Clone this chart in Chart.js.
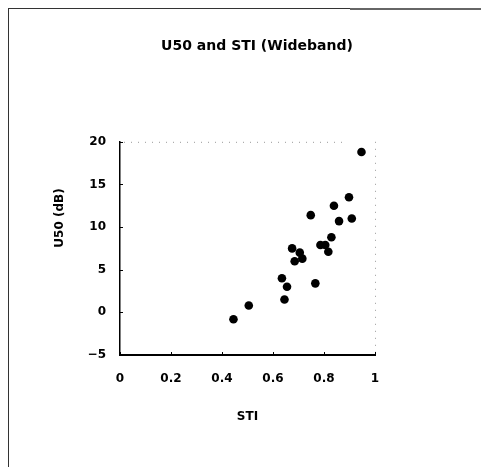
<!DOCTYPE html>
<html>
<head>
<meta charset="utf-8">
<script src="https://cdn.jsdelivr.net/npm/chart.js@4/dist/chart.umd.min.js"></script>
<style>
  html, body { margin: 0; padding: 0; background: #fff; }
  canvas { display: block; }
</style>
</head>
<body>
<canvas id="scatterChart" width="481" height="467"></canvas>
<script>
// STI vs U50 readings (wideband)
const stiValues = [0.445, 0.505, 0.635, 0.645, 0.655, 0.675, 0.685, 0.705, 0.715, 0.748, 0.766, 0.786, 0.805, 0.817, 0.829, 0.839, 0.859, 0.898, 0.909, 0.947];
const u50Values = [-0.8, 0.8, 4.0, 1.5, 3.0, 7.5, 6.0, 7.0, 6.3, 11.4, 3.4, 7.9, 7.9, 7.1, 8.8, 12.5, 10.7, 13.5, 11.0, 18.8];
const xTicks = [0, 0.2, 0.4, 0.6, 0.8, 1];
const yTicks = [-5, 0, 5, 10, 15, 20];
const yTitle = 'U50 (dB)';

const FONT = "'DejaVu Sans', Verdana, sans-serif";

// scanned-page frame, dotted top/right edges, inward ticks, y title
const decorPlugin = {
  id: 'decor',
  beforeDraw(chart) {
    const ctx = chart.ctx;
    ctx.save();
    ctx.strokeStyle = '#333';
    ctx.lineWidth = 1;
    ctx.beginPath();
    ctx.moveTo(8.5, 8);
    ctx.lineTo(8.5, 467);
    ctx.moveTo(9, 8.5);
    ctx.lineTo(350, 8.5);
    ctx.stroke();
    ctx.strokeStyle = '#666';
    ctx.lineWidth = 2;
    ctx.beginPath();
    ctx.moveTo(350, 9);
    ctx.lineTo(481, 9);
    ctx.stroke();
    ctx.restore();
  },
  afterDraw(chart) {
    const ctx = chart.ctx;
    const { left, right, top, bottom } = chart.chartArea;
    const x = chart.scales.x, y = chart.scales.y;
    ctx.save();
    ctx.strokeStyle = '#999';
    ctx.lineWidth = 1;
    ctx.setLineDash([1, 6]);
    ctx.beginPath();
    ctx.moveTo(left + 4, top + 0.5);
    ctx.lineTo(right - 30, top + 0.5);
    ctx.moveTo(right + 0.5, top);
    ctx.lineTo(right + 0.5, bottom);
    ctx.stroke();
    ctx.setLineDash([]);
    ctx.strokeStyle = '#000';
    ctx.beginPath();
    yTicks.forEach(v => {
      const py = Math.round(y.getPixelForValue(v)) + 0.5;
      ctx.moveTo(left, py);
      ctx.lineTo(left + 3, py);
    });
    xTicks.forEach(v => {
      const px = Math.round(x.getPixelForValue(v)) + 0.5;
      ctx.moveTo(px, bottom);
      ctx.lineTo(px, bottom - 3);
    });
    ctx.stroke();

    // y axis title sits above the axis centre in the original
    ctx.translate(60, 218);
    ctx.rotate(-Math.PI / 2);
    ctx.fillStyle = '#000';
    ctx.font = 'bold 12px ' + FONT;
    ctx.textAlign = 'center';
    ctx.textBaseline = 'middle';
    ctx.fillText(yTitle, 0, 0);
    ctx.restore();
  }
};

new Chart(document.getElementById('scatterChart'), {
  type: 'scatter',
  data: {
    datasets: [{
      label: 'U50 vs STI',
      data: stiValues.map((s, i) => ({ x: s, y: u50Values[i] })),
      backgroundColor: '#000',
      borderColor: '#000',
      borderWidth: 0,
      pointRadius: 4.3,
      pointHoverRadius: 4.3
    }]
  },
  options: {
    responsive: false,
    animation: false,
    layout: { padding: { left: 40, right: 7, top: 8, bottom: 43 } },
    plugins: {
      legend: { display: false },
      tooltip: { enabled: false },
      title: {
        display: true,
        text: 'U50 and STI (Wideband)',
        color: '#000',
        font: { family: FONT, size: 14, weight: 'bold' },
        padding: { top: 30, bottom: 87 }
      }
    },
    scales: {
      x: {
        type: 'linear',
        min: 0,
        max: 1,
        afterBuildTicks: s => { s.ticks = xTicks.map(v => ({ value: v })); },
        afterFit: s => { s.height = 69; },
        grid: { display: false, drawTicks: false },
        border: { display: true, color: '#000', width: 2 },
        ticks: {
          color: '#000',
          padding: 17,
          font: { family: FONT, size: 12, weight: 'bold' },
          callback: v => String(v)
        },
        title: {
          display: true,
          text: 'STI',
          color: '#000',
          padding: 0,
          font: { family: FONT, size: 12, weight: 'bold' }
        }
      },
      y: {
        type: 'linear',
        position: 'left',
        min: -5,
        max: 20,
        afterBuildTicks: s => { s.ticks = yTicks.map(v => ({ value: v })); },
        afterFit: s => { s.width = 80; },
        grid: { display: false, drawTicks: false },
        border: { display: true, color: '#000', width: 1.5 },
        ticks: {
          color: '#000',
          padding: 14,
          font: { family: FONT, size: 12, weight: 'bold' },
          callback: v => String(v).replace('-', '\u2212')
        }
      },
      spacer: {
        type: 'linear',
        position: 'right',
        afterFit: s => { s.width = 99; },
        grid: { display: false, drawTicks: false },
        border: { display: false },
        ticks: { display: false }
      }
    }
  },
  plugins: [decorPlugin]
});
</script>
</body>
</html>
